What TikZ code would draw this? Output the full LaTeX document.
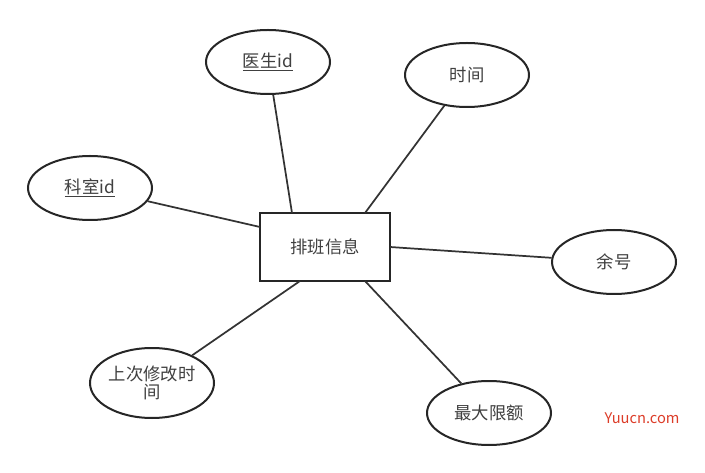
\documentclass[tikz,border=0pt]{standalone}
\usepackage{fontspec}
\setmainfont{Noto Sans CJK SC}
\usetikzlibrary{shapes.geometric}
\begin{document}
\begin{tikzpicture}[x=0.75pt,y=-0.75pt,
  attr/.style={ellipse,draw=black!85,line width=1.5pt,fill=white,minimum width=124*0.75pt,minimum height=64*0.75pt,inner sep=0pt,font=\fontsize{13}{15}\selectfont,text=black!75,align=center},
  ent/.style={rectangle,draw=black!85,line width=1.5pt,minimum width=130*0.75pt,minimum height=68*0.75pt,font=\fontsize{13}{15}\selectfont,text=black!75},
  link/.style={draw=black!80,line width=1.3pt}]
\useasboundingbox (0,0) rectangle (705,473);
\node[ent] (e) at (325,247) {排班信息};
\node[attr] (a1) at (268,62) {\underline{医生id}};
\node[attr] (a2) at (467,75) {时间};
\node[attr] (a3) at (90,188) {\underline{科室id}};
\node[attr] (a4) at (614,262) {余号};
\node[attr,minimum height=70*0.75pt] (a5) at (152,383) {上次修改时\\[-2pt]间};
\node[attr] (a6) at (489,413) {最大限额};
\draw[link] (a1) -- (292,213);
\draw[link] (a2) -- (365,213);
\draw[link] (a3) -- (260,227);
\draw[link] (a4) -- (390,247);
\draw[link] (a5) -- (300,281);
\draw[link] (a6) -- (365,281);
\node[font=\fontsize{11}{13}\selectfont,text={rgb,255:red,220;green,60;blue,40}] (w) at (642,418) {Yuucn.com};
\end{tikzpicture}
\end{document}
